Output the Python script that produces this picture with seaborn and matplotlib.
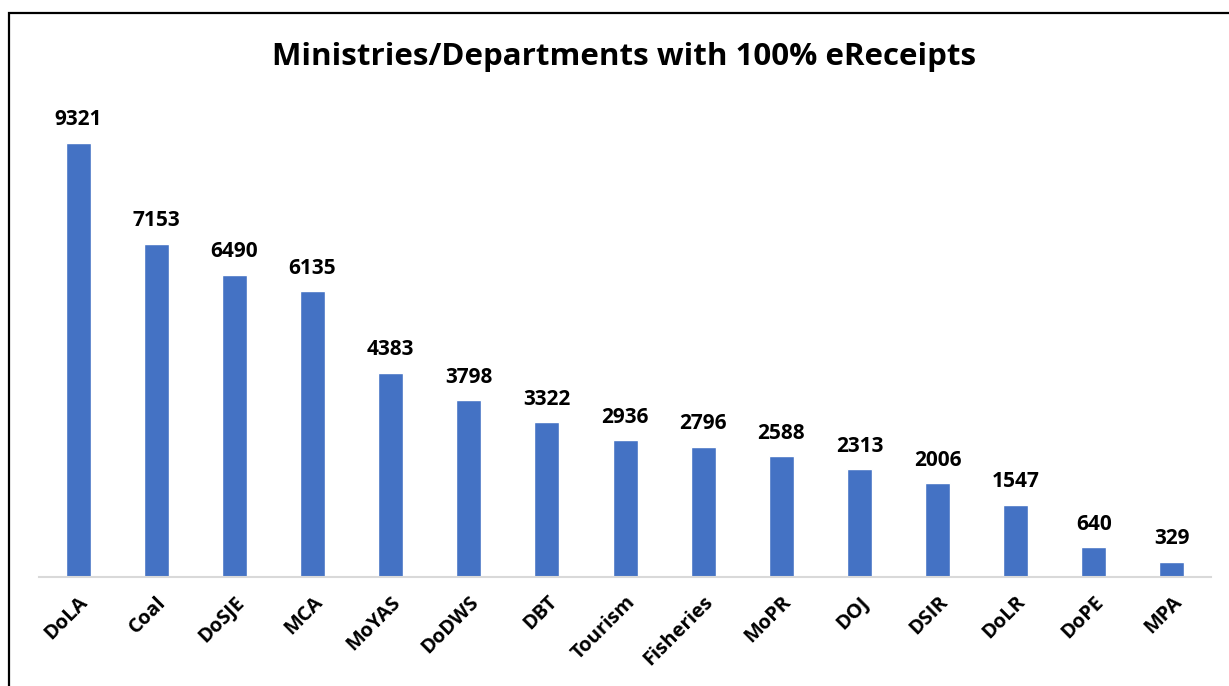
import matplotlib
matplotlib.use("Agg")
import matplotlib.pyplot as plt
import seaborn as sns
import pandas as pd
from matplotlib.patches import Rectangle

categories = ["DoLA", "Coal", "DoSJE", "MCA", "MoYAS", "DoDWS", "DBT", "Tourism",
              "Fisheries", "MoPR", "DOJ", "DSIR", "DoLR", "DoPE", "MPA"]
values = [9321, 7153, 6490, 6135, 4383, 3798, 3322, 2936, 2796, 2588, 2313, 2006, 1547, 640, 329]
title = "Ministries/Departments with 100% eReceipts"

sns.set_theme(style="white")
plt.rcParams['font.family'] = ['Open Sans', 'DejaVu Sans']

df = pd.DataFrame({"cat": categories, "val": values})
fig = plt.figure(figsize=(12.29, 6.86), dpi=100)
ax = fig.add_axes([0.0317, 0.159, 0.9537, 0.679])
sns.barplot(data=df, x="cat", y="val", color="#4472C4", saturation=1, width=0.32, ax=ax)
ax.set_ylim(0, 10000)
ax.set_xlim(-0.5, len(categories) - 0.5)
for s in ["top", "right", "left"]:
    ax.spines[s].set_visible(False)
ax.spines["bottom"].set_color("#D9D9D9")
ax.spines["bottom"].set_linewidth(1.5)
ax.set_yticks([])
ax.set_xlabel("")
ax.set_ylabel("")
ax.tick_params(axis="x", length=0, pad=11)
plt.setp(ax.get_xticklabels(), rotation=45, ha="right", rotation_mode="anchor",
         fontsize=14.5, fontweight="bold", color="black")
for i, v in enumerate(values):
    ax.annotate(str(v), (i, v), xytext=(0, 9), textcoords="offset points",
                ha="center", va="bottom", fontsize=15, fontweight="bold", color="black")
fig.text(0.508, 0.917, title, ha="center", va="center", fontsize=22.5, fontweight="bold", color="black")
fig.patches.append(Rectangle((9/1229, -0.05), 1.2, 0.05 + 1 - 13/686, transform=fig.transFigure,
                             fill=False, edgecolor="black", linewidth=1.6))
fig.savefig("out.png", dpi=100)
